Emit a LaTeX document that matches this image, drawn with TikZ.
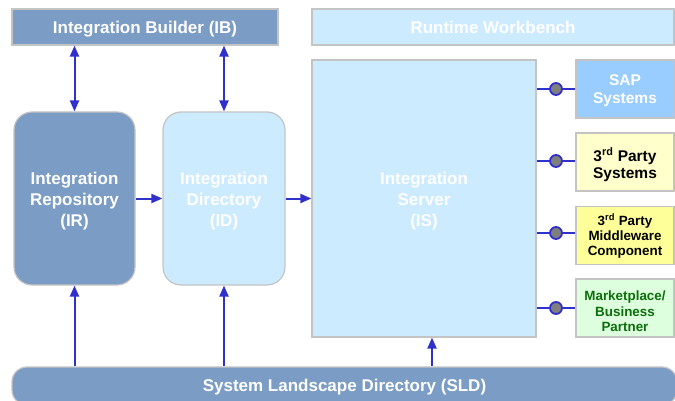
\documentclass[tikz,border=0pt]{standalone}
\usepackage{fontspec}
\setmainfont{Liberation Sans}
\usetikzlibrary{arrows.meta}
\definecolor{steelbox}{HTML}{7B9CC4}
\definecolor{palebox}{HTML}{CCEBFF}
\definecolor{sapbox}{HTML}{99CCFF}
\definecolor{creambox}{HTML}{FFFFCC}
\definecolor{yellowbox}{HTML}{FFFF99}
\definecolor{greenbox}{HTML}{DDFFDD}
\definecolor{greentext}{HTML}{0B6E0B}
\definecolor{edgegray}{HTML}{C4C4C4}
\definecolor{linkblue}{HTML}{3030CC}
\definecolor{portgray}{HTML}{7F7F7F}
\tikzset{
  block/.style={draw=edgegray, line width=1.2pt, align=center, inner sep=0pt,
    font=\fontsize{17}{21}\selectfont\bfseries, text=white},
  % a strut beside the text block fixes its height above the last baseline,
  % which sets where the lines sit inside the box
  textht/.style={execute at begin node={\rule{0pt}{#1pt}}},
  sidebox/.style={block, minimum width=98, minimum height=58},
  flow/.style={draw=linkblue, line width=2pt, -{Triangle[length=11pt,width=9pt]}},
  bothflow/.style={flow, {Triangle[length=11pt,width=9pt]}-{Triangle[length=11pt,width=9pt]}},
  link/.style={draw=linkblue, line width=2pt},
  port/.style={circle, fill=portgray, draw=linkblue, line width=1.8pt, minimum size=12, inner sep=0pt}
}
\begin{document}
\begin{tikzpicture}[x=1pt, y=-1pt]
\useasboundingbox (0,0) rectangle (675,401);
\clip (0,0) rectangle (675,401);

% top tool bars
\node[block, fill=steelbox, minimum width=266, minimum height=36, textht=17] (IB) at (145,27) {Integration Builder (IB)};
\node[block, fill=palebox, minimum width=362, minimum height=36, textht=12.7] (RW) at (493,27) {Runtime Workbench};

% design-time and configuration stores
\node[block, fill=steelbox, rounded corners=18, minimum width=121, minimum height=173, textht=59.6] (IR) at (74.5,198.5) {Integration\\Repository\\(IR)};
\node[block, fill=palebox, rounded corners=18, minimum width=122, minimum height=173, textht=59.6] (ID) at (224,198.5) {Integration\\Directory\\(ID)};

% runtime engine
\node[block, fill=palebox, minimum width=224, minimum height=277, textht=59.6] (IS) at (424,198.5) {Integration\\Server\\(IS)};

% connected systems
\node[sidebox, fill=sapbox, font=\fontsize{15.5}{18}\selectfont\bfseries, textht=31.9] (SAP) at (625,89) {SAP\\Systems};
\node[sidebox, fill=creambox, text=black, font=\fontsize{15.5}{17}\selectfont\bfseries, textht=35.3] (TPS) at (625,162) {3\textsuperscript{rd} Party\\Systems};
\node[sidebox, fill=yellowbox, text=black, font=\fontsize{13.4}{15.3}\selectfont\bfseries, textht=43.5] (TPM) at (625,235.5) {3\textsuperscript{rd} Party\\Middleware\\Component};
\node[sidebox, fill=greenbox, text=greentext, font=\fontsize{13.4}{15.9}\selectfont\bfseries, textht=48] (MBP) at (625,308) {Marketplace/\\Business\\Partner};

% landscape directory band
\node[block, fill=steelbox, rounded corners=15, minimum width=665, minimum height=38, textht=15] (SLD) at (344.5,386) {System Landscape Directory (SLD)};

% connections to the builder
\draw[bothflow] (IR.north) -- (IR.north |- IB.south);
\draw[bothflow] (ID.north) -- (ID.north |- IB.south);

% design time to runtime
\draw[flow] (IR.east) -- (ID.west);
\draw[flow] (ID.east) -- (ID.east -| IS.west);

% landscape directory feeds
\draw[flow] (IR.south |- SLD.north) -- (IR.south);
\draw[flow] (ID.south |- SLD.north) -- (ID.south);
\draw[flow] ([xshift=8pt]IS.south |- SLD.north) -- ([xshift=8pt]IS.south);

% adapters to connected systems
\draw[link] (IS.east |- SAP.west) -- node[port] (p1) {} (SAP.west);
\draw[link] (IS.east |- 0,161) -- node[port] (p2) {} (TPS.west |- 0,161);
\draw[link] (IS.east |- 0,233) -- node[port] (p3) {} (TPM.west |- 0,233);
\draw[link] (IS.east |- MBP.west) -- node[port] (p4) {} (MBP.west);
\end{tikzpicture}
\end{document}
